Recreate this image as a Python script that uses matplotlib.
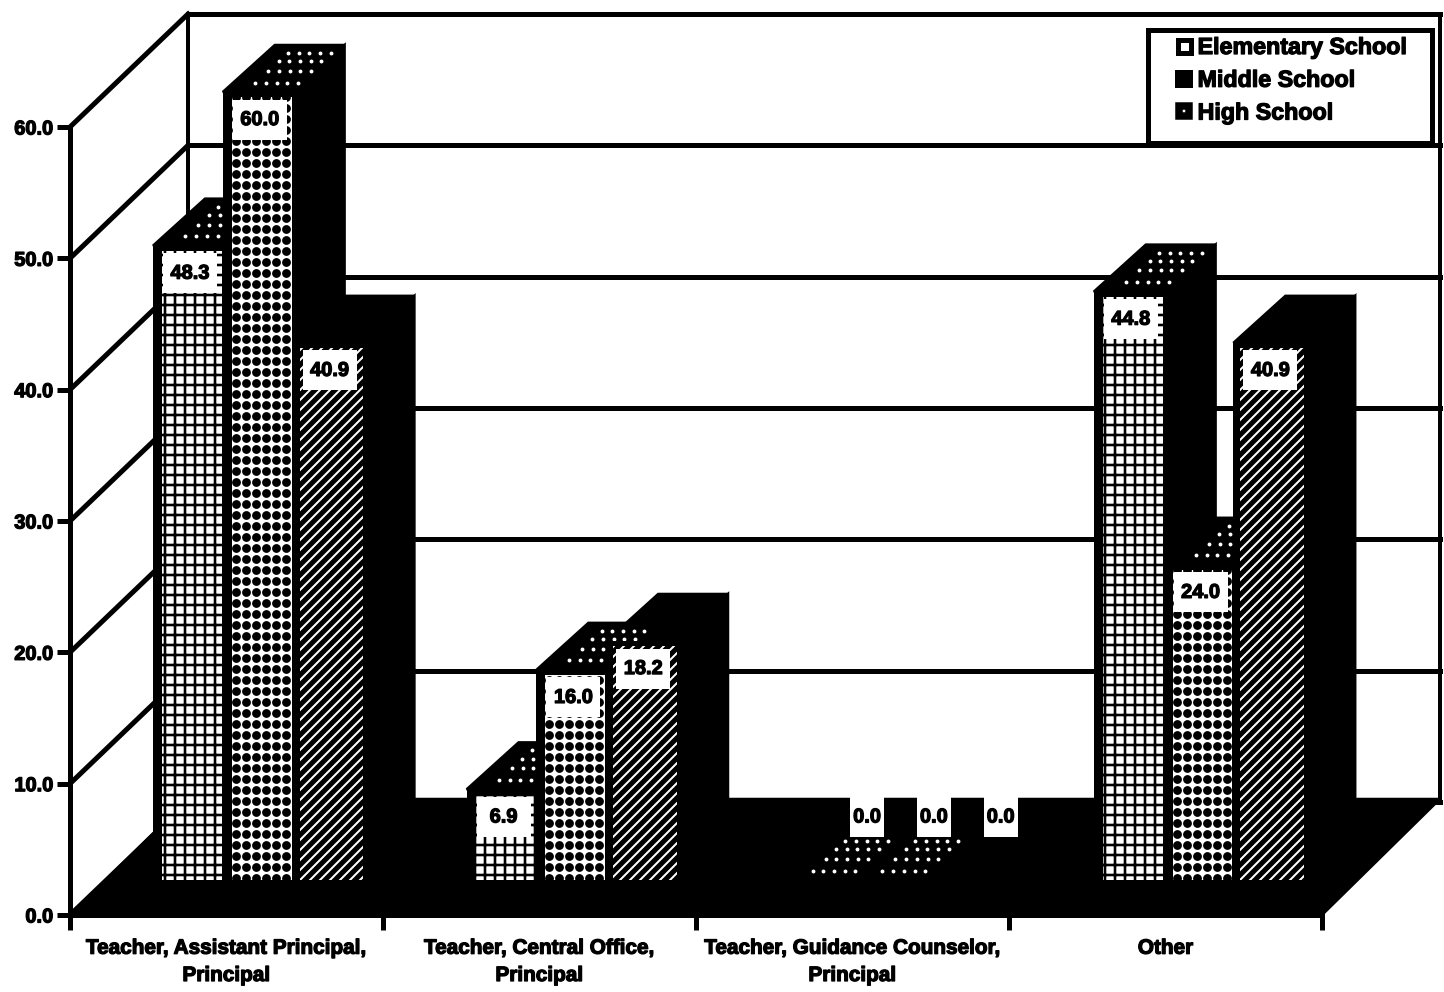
import numpy as np
import matplotlib
matplotlib.use('Agg')
import matplotlib.pyplot as plt
import matplotlib.patheffects as pe
from matplotlib.lines import Line2D
from matplotlib.patches import Polygon, Rectangle

plt.rcParams['font.family'] = ['Liberation Sans', 'DejaVu Sans']
plt.rcParams['font.weight'] = 'bold'

# Values
categories = ['Teacher, Assistant Principal,\nPrincipal',
              'Teacher, Central Office,\nPrincipal',
              'Teacher, Guidance Counselor,\nPrincipal',
              'Other']
elementary = [48.3, 6.9, 0.0, 44.8]
middle = [60.0, 16.0, 0.0, 24.0]
high = [40.9, 18.2, 0.0, 40.9]
series_names = ['Elementary School', 'Middle School', 'High School']
y_ticks = [0, 10, 20, 30, 40, 50, 60]

DPI = 180
W, H = 1444, 992
AX_L, AX_R, AX_T, AX_B = 70, 1322, 127, 915   # axes box, in pixels
PX_X = 4 / (AX_R - AX_L)      # one pixel in x data units
PX_Y = 60 / (AX_B - AX_T)     # one pixel in y data units
LW = 72 / DPI                 # one pixel in points
heavy = [pe.withStroke(linewidth=0.5, foreground='black')]

# depth of the chart walls and of the bars
wall_dx, wall_dy = 118 * PX_X, 113 * PX_Y
floor_dy = 116 * PX_Y
bar_dx, bar_dy = 52 * PX_X, 47 * PX_Y
bar_base = 35 * PX_Y
bar_w = 69.8 * PX_X


def bar_x(i, k):
    return i + (83 + 0.6 * i) * PX_X + k * bar_w


fig = plt.figure(figsize=(W / DPI, H / DPI), dpi=DPI, facecolor='white')
ax = fig.add_axes([AX_L / W, (H - AX_B) / H, (AX_R - AX_L) / W, (AX_B - AX_T) / H])
ax.set_xlim(0, 4)
ax.set_ylim(0, 60)
ax.patch.set_visible(False)

# axes
for s in ['top', 'right']:
    ax.spines[s].set_visible(False)
for s in ['left', 'bottom']:
    ax.spines[s].set_linewidth(5 * LW)
ax.set_yticks(y_ticks, [f'{t:.1f}' for t in y_ticks], fontsize=8)
ax.tick_params(axis='y', length=13 * LW, width=5 * LW, pad=1.5)
ax.set_xticks(range(5), [''] * 5)
ax.tick_params(axis='x', which='major', length=15 * LW, width=5 * LW)
ax.set_xticks(np.arange(4) + 0.5, categories, minor=True, fontsize=8.3, linespacing=1.55)
ax.tick_params(axis='x', which='minor', length=0, pad=9.5)
for lab in ax.get_yticklabels() + ax.get_xticklabels(minor=True):
    lab.set_path_effects(heavy)

# walls
for t in y_ticks:
    ax.plot([0, wall_dx], [t, t + wall_dy], color='black', lw=5 * LW, clip_on=False, zorder=1)
    ax.plot([wall_dx, 4 + wall_dx], [t + wall_dy, t + wall_dy], color='black', lw=5 * LW,
            clip_on=False, zorder=1)
for x in [wall_dx, 4 + wall_dx]:
    ax.plot([x, x], [wall_dy, 60 + wall_dy], color='black', lw=4 * LW, clip_on=False, zorder=1)
ax.add_patch(Polygon([(0, 0), (4, 0), (4 + wall_dx, floor_dy), (wall_dx, floor_dy)],
                     color='black', clip_on=False, zorder=2))


def top_dots(x0, top):
    # small white dots on the top of a bar, sheared with the depth
    for frac in [0.2, 0.45, 0.65, 0.83]:
        xs = x0 + frac * bar_dx + (np.arange(5) * 10.7 + 22) * PX_X
        ys = np.full(5, top + frac * bar_dy)
        ax.scatter(xs, ys, s=2.4, color='white', linewidths=0, clip_on=False, zorder=4)


# sides and tops first, the fronts go over them
all_series = [elementary, middle, high]
for i in range(4):
    for k, values in enumerate(all_series):
        x0 = bar_x(i, k)
        x1 = x0 + bar_w
        top = bar_base + values[i]
        ax.add_patch(Polygon([(x1, bar_base), (x1, top), (x1 + bar_dx, top + bar_dy),
                              (x1 + bar_dx, bar_base + bar_dy)],
                             color='black', clip_on=False, zorder=3))
        ax.add_patch(Polygon([(x0, top), (x1, top), (x1 + bar_dx, top + bar_dy),
                              (x0 + bar_dx, top + bar_dy)],
                             color='black', clip_on=False, zorder=3))
        if k < 2:
            top_dots(x0, top)

for i in range(4):
    for k, values in enumerate(all_series):
        x0 = bar_x(i, k)
        v = values[i]
        if v == 0:
            continue
        # black outline of the front, the pattern sits inside it
        ax.bar(x0, v, bar_w, bottom=bar_base, align='edge', color='black', lw=0,
               clip_on=False, zorder=4.5)
        inner_x = x0 + (9 if k < 2 else 7) * PX_X
        inner_w = bar_w - (10 if k < 2 else 6) * PX_X
        inner_top = v - 5 * PX_Y
        if k == 0:
            bars = ax.bar(inner_x, inner_top, inner_w, bottom=bar_base, align='edge',
                          facecolor='white', edgecolor='black', hatch='+++', lw=0,
                          clip_on=False, zorder=5)
            bars[0].set_hatch_linewidth(2.6 * LW)
        elif k == 1:
            bars = ax.bar(inner_x, inner_top, inner_w, bottom=bar_base, align='edge',
                          facecolor='white', lw=0, clip_on=False, zorder=5)
            nx = int(inner_w / (10 * PX_X)) + 2
            ny = int(inner_top / (11 * PX_Y)) + 2
            gx, gy = np.meshgrid(inner_x + np.arange(nx) * 10 * PX_X + 4 * PX_X,
                                 bar_base + np.arange(ny) * 11 * PX_Y + 2 * PX_Y)
            dots = ax.scatter(gx.ravel(), gy.ravel(), s=(8.8 * LW) ** 2, color='black',
                              linewidths=0, zorder=6)
            dots.set_clip_path(bars[0])
        else:
            bars = ax.bar(inner_x, inner_top, inner_w, bottom=bar_base, align='edge',
                          facecolor='black', edgecolor='white', hatch='//////', lw=0,
                          clip_on=False, zorder=5)
            bars[0].set_hatch_linewidth(2.0 * LW)

# value labels on white boxes
for i in range(4):
    for k, values in enumerate(all_series):
        x0 = bar_x(i, k)
        v = values[i]
        cx = x0 + 37 * PX_X
        box_w = 54 * PX_X
        if v == 0:
            cx = x0 + bar_w / 2 + bar_dx - k * 3 * PX_X
            box_w = 34 * PX_X
        cy = bar_base + max(v - 2.1, 4.8)
        ax.add_patch(Rectangle((cx - box_w / 2, cy - 20 * PX_Y), box_w, 40 * PX_Y,
                               facecolor='white', lw=0, clip_on=False, zorder=7))
        ax.text(cx, cy, f'{v:.1f}', ha='center', va='center', fontsize=8, zorder=8,
                path_effects=heavy)

# legend
ax.add_patch(Rectangle(((1148 - AX_L) * PX_X, (AX_B - 143) * PX_Y), 284 * PX_X, 113 * PX_Y,
                       facecolor='white', edgecolor='black', lw=5 * LW, clip_on=False, zorder=9))
handles = [
    Line2D([], [], ls='', marker='s', ms=13 * LW, mew=5 * LW, mfc='white', mec='black'),
    Line2D([], [], ls='', marker='s', ms=18 * LW, mew=0, mfc='black'),
    Line2D([], [], ls='', marker='s', ms=10.5 * LW, mew=7.5 * LW, mfc='white', mec='black'),
]
leg = ax.legend(handles, series_names, loc='upper left', frameon=False, fontsize=9.3,
                bbox_to_anchor=(1172 / W, 1 - 36 / H), bbox_transform=fig.transFigure,
                borderpad=0, borderaxespad=0, handlelength=1.0, handletextpad=0.1,
                labelspacing=0.42)
leg.set_zorder(10)
for lab in leg.get_texts():
    lab.set_path_effects(heavy)

fig.savefig('out.png', dpi=DPI, facecolor='white')
